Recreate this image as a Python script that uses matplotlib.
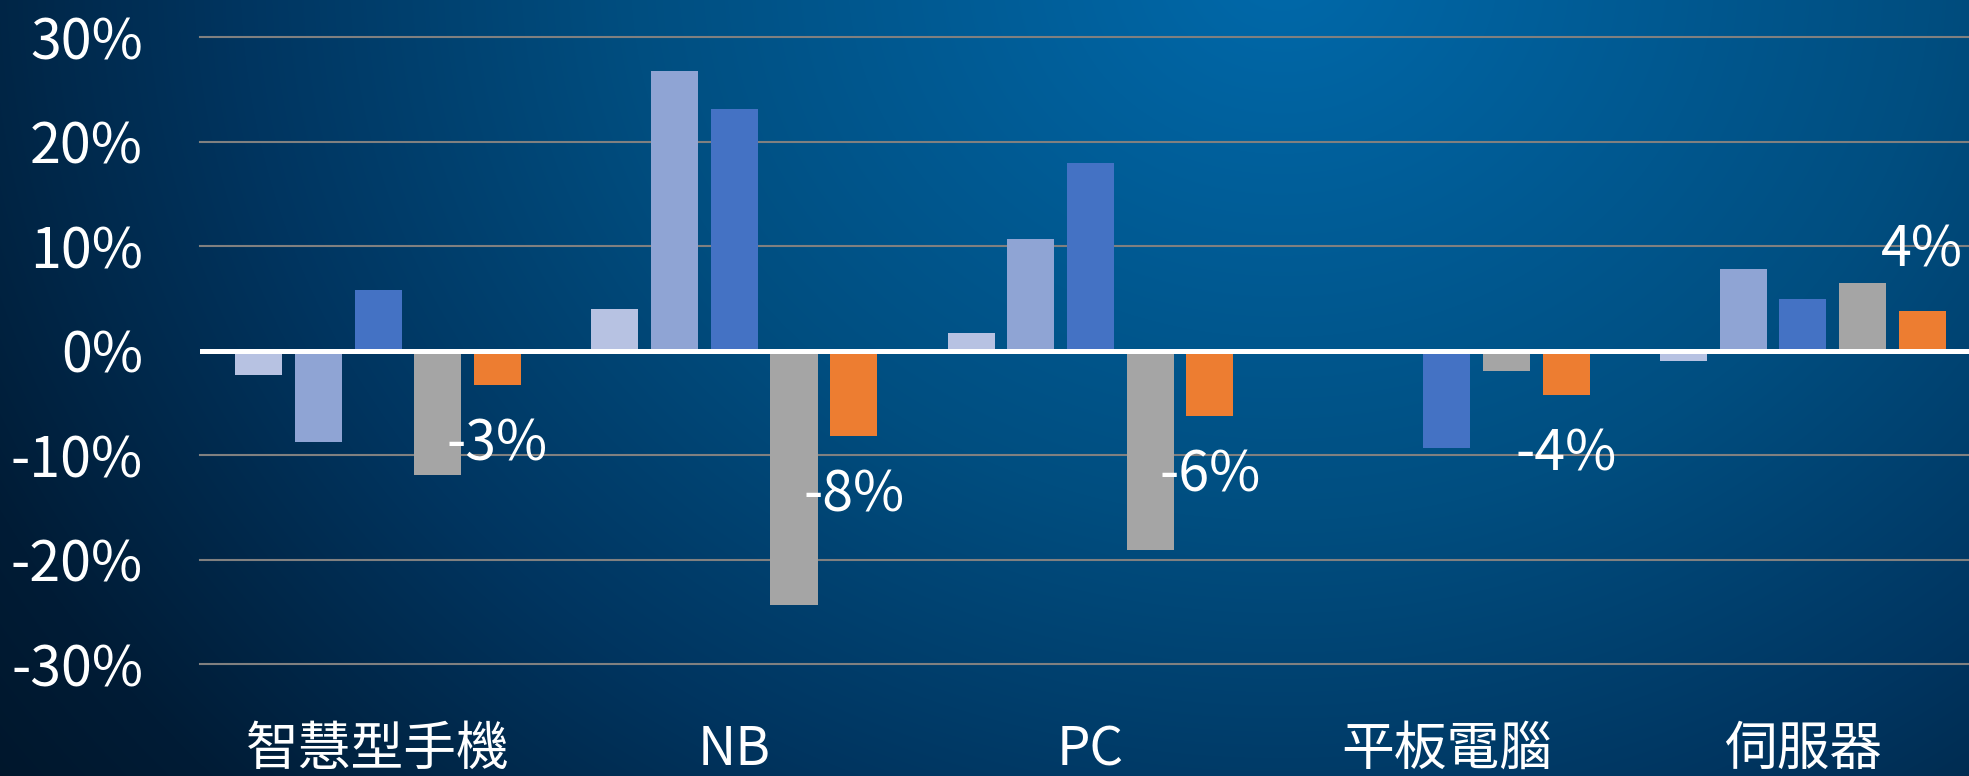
import numpy as np
import matplotlib
matplotlib.use("Agg")
import matplotlib.pyplot as plt
from matplotlib.colors import to_rgb
from matplotlib.ticker import PercentFormatter
from matplotlib.transforms import blended_transform_factory

plt.rcParams['font.family'] = ['Noto Sans CJK TC', 'DejaVu Sans']
plt.rcParams['axes.unicode_minus'] = False

categories = ["智慧型手機", "NB", "PC", "平板電腦", "伺服器"]
s1 = [-0.023, 0.040, 0.017, -0.002, -0.010]
s2 = [-0.088, 0.267, 0.107, -0.003, 0.078]
s3 = [0.058, 0.231, 0.179, -0.093, 0.049]
s4 = [-0.119, -0.244, -0.191, -0.020, 0.065]
s5 = [-0.033, -0.082, -0.063, -0.043, 0.038]
series = [s1, s2, s3, s4, s5]
colors = ["#B7C2E2", "#8FA4D4", "#4472C4", "#A5A5A5", "#ED7D31"]
yticks = [-0.3, -0.2, -0.1, 0.0, 0.1, 0.2, 0.3]

W, H = 1969, 776
fig = plt.figure(figsize=(W / 100, H / 100), dpi=100)

# background: radial blue glow from the top, dark in the corners
bg = fig.add_axes([0, 0, 1, 1])
yy, xx = np.mgrid[0:H, 0:W]
d = np.sqrt(((xx - 1280) / 1300.0) ** 2 + ((yy + 30) / 1100.0) ** 2)
stops = [0.0, 0.5, 0.8, 1.1, 1.4]
cols = [to_rgb(c) for c in ["#0069AA", "#004E80", "#003560", "#001C36", "#00101F"]]
img = np.zeros((H, W, 3))
for k in range(3):
    img[..., k] = np.interp(d, stops, [c[k] for c in cols])
bg.imshow(img, aspect='auto', extent=[0, 1, 0, 1], origin='upper')
bg.axis('off')

ax = fig.add_axes([200 / W, (H - 664) / H, (1981 - 200) / W, (664 - 37) / H])
ax.set_facecolor('none')

x = np.arange(len(categories))
pitch = 0.1676
width = 0.132
for i, (vals, c) in enumerate(zip(series, colors)):
    ax.bar(x + (i - 2) * pitch, vals, width, color=c, zorder=3)

# labels on the last series
for xi, v in zip(x, s5):
    off = 43 if v > 0 else -43
    ax.annotate(f"{round(v * 100):.0f}%", (xi + 2 * pitch, v),
                xytext=(0, off), textcoords='offset points',
                ha='center', va='center', color='white', fontsize=40, zorder=5)

ax.set_xlim(-0.5, 4.5)
ax.set_ylim(-0.3, 0.3)
ax.set_yticks(yticks)
ax.yaxis.set_major_formatter(PercentFormatter(1.0, decimals=0))
ax.set_xticks([])
ax.tick_params(axis='y', length=0, pad=41, labelsize=40, labelcolor='white')
for yv in yticks:
    if yv != 0:
        ax.axhline(yv, color='#808080', lw=1.5, zorder=1, clip_on=False)
ax.axhline(0, color='white', lw=3.6, zorder=4)
for sp in ax.spines.values():
    sp.set_visible(False)

tr = blended_transform_factory(ax.transData, fig.transFigure)
for xi, name in zip(x, categories):
    ax.text(xi, 1 - 765 / H, name, transform=tr, ha='center', va='baseline',
            color='white', fontsize=38)

fig.savefig("out.png", dpi=100)
